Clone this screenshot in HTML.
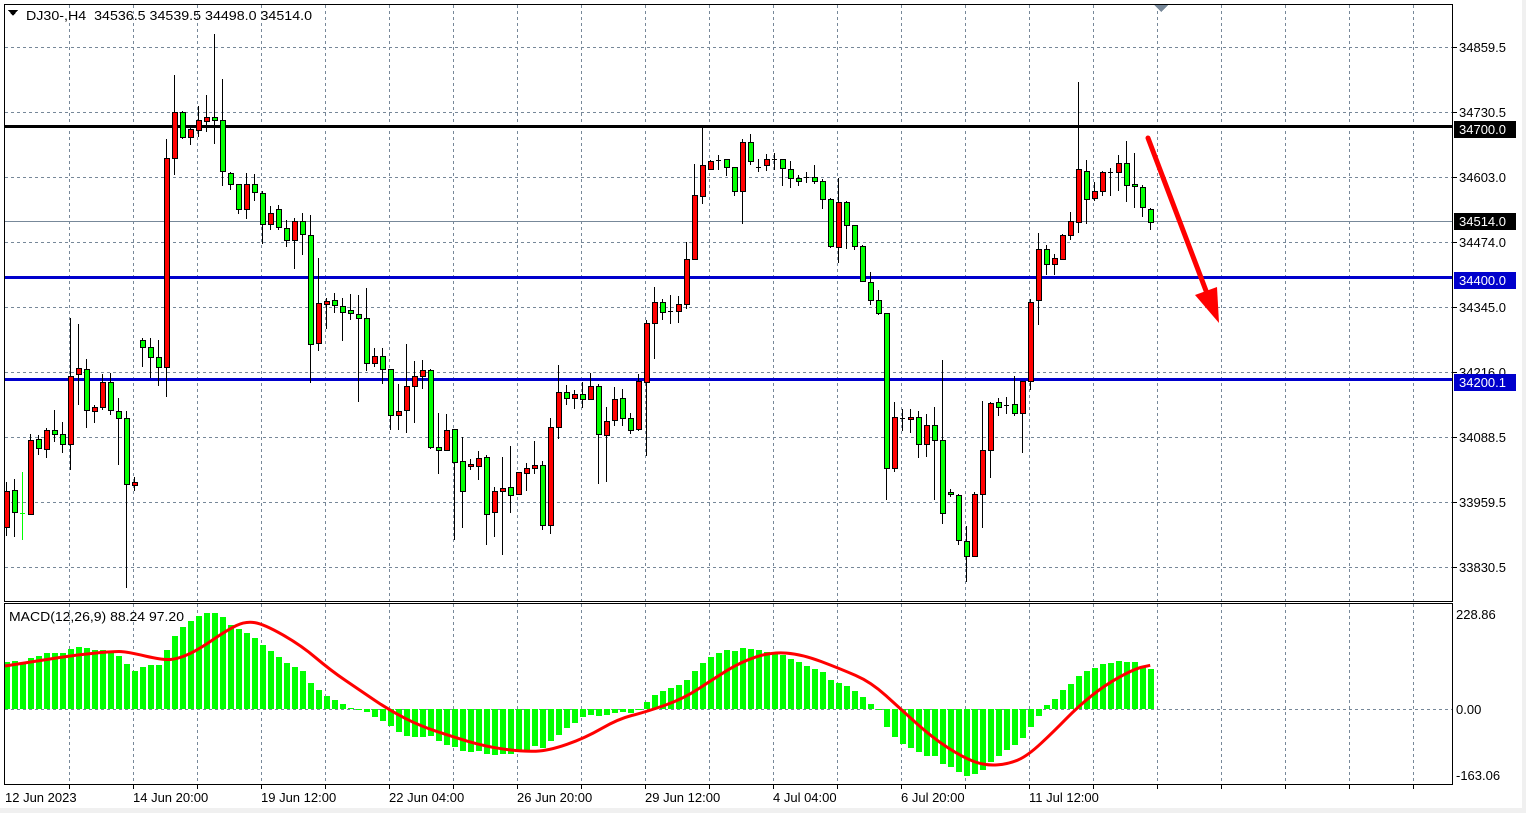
<!DOCTYPE html>
<html><head><meta charset="utf-8">
<style>
html,body{margin:0;padding:0;background:#fff;}
body{width:1526px;height:813px;overflow:hidden;position:relative;font-family:"Liberation Sans",Tahoma,sans-serif;}
svg{position:absolute;left:0;top:0;}
</style></head>
<body>
<svg id="s" width="1526" height="813" xmlns="http://www.w3.org/2000/svg" shape-rendering="crispEdges" font-family="Liberation Sans, sans-serif">
<rect x="0" y="0" width="1526" height="813" fill="#ffffff"/>
<rect x="0" y="808" width="1526" height="5" fill="#f0f0f0"/>
<rect x="1522" y="0" width="4" height="813" fill="#f0f0f0"/>
<g id="grid"></g>
<g id="levels"></g>
<g id="candles"></g>
<g id="macd"></g>
<g id="frame" fill="none" stroke="#000" stroke-width="1">
<rect x="4.5" y="4.5" width="1448" height="597"/>
<rect x="4.5" y="603.5" width="1448" height="181"/>
</g>
<polygon points="1154,5 1168,5 1161,12" fill="#778899"/>
<g font-size="13" fill="#000">
<polygon points="8,10 18,10 13,16" fill="#000"/>
<text x="26" y="20" xml:space="preserve" textLength="286" lengthAdjust="spacingAndGlyphs">DJ30-,H4  34536.5 34539.5 34498.0 34514.0</text>
<text x="9" y="621" textLength="175" lengthAdjust="spacingAndGlyphs">MACD(12,26,9) 88.24 97.20</text>
</g>
<g id="axis" font-size="13" fill="#000"></g>
<g id="arrow">
<line x1="1148" y1="138" x2="1208" y2="296" stroke="#ff0000" stroke-width="5" stroke-linecap="round" shape-rendering="auto"/>
<polygon points="1195,295 1217,287 1219,323" fill="#ff0000" shape-rendering="auto"/>
</g>
</svg>
<script>
var NS="http://www.w3.org/2000/svg";
function el(p,t,a,txt){var e=document.createElementNS(NS,t);for(var k in a)e.setAttribute(k,a[k]);if(txt!=null)e.textContent=txt;document.getElementById(p).appendChild(e);return e;}
for(var x=69;x<=1413;x+=64){
 el('grid','line',{x1:x+.5,y1:5,x2:x+.5,y2:601,stroke:'#778899','stroke-dasharray':'3,3'});
 el('grid','line',{x1:x+.5,y1:604,x2:x+.5,y2:784,stroke:'#778899','stroke-dasharray':'3,3'});
 el('grid','line',{x1:x+.5,y1:785,x2:x+.5,y2:789,stroke:'#000'});
}
var py=[47,112,177,242,307,372,437,502,567],pl=["34859.5","34730.5","34603.0","34474.0","34345.0","34216.0","34088.5","33959.5","33830.5"];
for(var i=0;i<py.length;i++){
 el('grid','line',{x1:5,y1:py[i]+.5,x2:1452,y2:py[i]+.5,stroke:'#778899','stroke-dasharray':'3,3'});
 el('axis','line',{x1:1453,y1:py[i]+.5,x2:1457,y2:py[i]+.5,stroke:'#000'});
 el('axis','text',{x:1459,y:py[i]+5},pl[i]);
}
el('grid','line',{x1:5,y1:709.5,x2:1452,y2:709.5,stroke:'#778899','stroke-dasharray':'3,3'});
el('axis','text',{x:1456,y:619},"228.86");
el('axis','text',{x:1456,y:714},"0.00");
el('axis','text',{x:1456,y:780},"-163.06");
var dl=["12 Jun 2023","14 Jun 20:00","19 Jun 12:00","22 Jun 04:00","26 Jun 20:00","29 Jun 12:00","4 Jul 04:00","6 Jul 20:00","11 Jul 12:00"];
for(var i=0;i<dl.length;i++)el('axis','text',{x:5+128*i,y:802},dl[i]);
el('levels','line',{x1:5,y1:221.5,x2:1452,y2:221.5,stroke:'#778899'});
el('levels','rect',{x:5,y:125,width:1447,height:3,fill:'#000'});
el('levels','rect',{x:5,y:276,width:1447,height:3,fill:'#0000cc'});
el('levels','rect',{x:5,y:378,width:1447,height:3,fill:'#0000cc'});
function lab(y,bg,t){el('axis','rect',{x:1454,y:y-8,width:62,height:17,fill:bg});el('axis','text',{x:1459,y:y+5,fill:'#fff'},t);}
lab(129,'#000',"34700.0");lab(221,'#000',"34514.0");lab(280,'#0000cc',"34400.0");lab(382,'#0000cc',"34200.1");
var C=[
['r',1272,1370,1250,1395],['g',1270,1330,1240,1398],['gd',1332,1332,1222,1405],['r',1136,1335,1120,1338],['g',1133,1158,1122,1175],
['r',1108,1160,1103,1183],['g',1108,1120,1053,1140],['g',1118,1147,1087,1170],['r',962,1147,805,1215],['r',940,958,822,1040],
['g',942,1055,915,1102],['r',1047,1058,1040,1088],['r',978,1047,958,1055],['g',978,1055,955,1068],['g',1057,1075,1022,1202],
['g',1077,1255,1057,1535],['r',1250,1258,1235,1272],['g',866,885,860,937],['g',885,912,860,968],['g',912,937,865,988],
['r',374,937,323,1018],['r',250,374,148,418],['g',250,317,245,322],['r',295,317,290,337],['r',271,297,233,315],
['r',263,274,203,302],['g',263,271,38,335],['g',271,407,160,450],['g',413,444,410,460],['g',444,512,444,525],
['r',444,512,413,537],['g',444,466,415,488],['g',468,552,462,605],['r',522,552,502,567],['g',510,560,500,567],
['g',561,596,540,613],['r',544,596,535,672],['g',544,579,523,635],['g',580,875,527,980],['r',766,874,643,895],
['r',760,767,752,835],['g',758,771,738,791],['g',773,790,752,867],['g',785,793,740,812],['g',795,806,742,1032],
['g',806,928,725,950],['r',907,928,887,937],['g',908,942,887,983],['g',942,1069,942,1108],['r',1057,1069,983,1108],
['r',990,1055,877,1115],['r',962,988,922,1088],['r',947,962,920,998],['g',947,1155,942,1160],['g',1153,1163,1062,1226],
['r',1108,1163,1065,1165],['g',1106,1196,1106,1405],['g',1193,1272,1127,1372],['r',1200,1206,1186,1216],['r',1185,1205,1165,1243],
['g',1182,1334,1177,1418],['r',1272,1331,1262,1398],['r',1266,1272,1180,1445],['g',1263,1285,1152,1332],['r',1223,1282,1223,1285],
['r',1212,1225,1198,1272],['r',1204,1212,1138,1226],['g',1204,1366,1192,1378],['r',1101,1366,1077,1388],['r',1006,1101,933,1133],
['g',1006,1022,987,1042],['r',1012,1022,1000,1052],['g',1012,1025,978,1050],['r',990,1025,955,1028],['g',990,1120,985,1255],
['r',1085,1123,1045,1250],['r',1025,1082,993,1097],['g',1023,1077,998,1097],['g',1077,1107,1062,1120],['r',975,1105,958,1112],
['r',820,978,810,1178],['r',763,820,722,915],['g',763,790,755,812],['d',787,787,743,823],['r',768,787,745,818],
['r',647,768,600,782],['r',473,645,388,648],['r',393,477,293,498],['r',381,404,378,405],['d',378,378,365,405],
['g',377,396,375,422],['g',398,462,398,475],['r',331,462,322,552],['g',331,382,308,393],['d',397,397,375,412],
['r',375,393,362,407],['d',377,377,360,405],['g',377,400,375,450],['g',402,428,381,453],['g',428,436,418,448],
['d',425,425,410,440],['g',425,436,392,442],['g',436,483,430,510],['g',485,612,480,617],['r',493,614,427,657],
['g',493,555,490,620],['g',555,612,555,622],['g',612,705,607,708],['g',707,758,680,770],['g',756,793,730,797],
['g',793,1210,793,1297],['r',1072,1210,1033,1223],['d',1075,1075,1052,1112],['r',1072,1078,1052,1117],['g',1072,1145,1057,1183],
['r',1096,1145,1065,1180],['g',1096,1136,1046,1297],['g',1136,1332,918,1363],['g',1277,1282,1268,1290],['g',1285,1405,1282,1420],
['g',1407,1450,1368,1520],['r',1282,1450,1275,1452],['r',1163,1282,1030,1372],['r',1036,1163,1033,1238],['g',1033,1045,1022,1070],
['d',1041,1041,1018,1066],['g',1038,1062,962,1070],['r',975,1063,975,1170],['r',763,975,755,1000],['r',620,758,575,825],
['g',620,660,607,690],['r',643,660,632,690],['r',580,645,578,648],['r',542,582,520,595],['r',403,545,168,575],
['g',407,485,378,552],['r',462,482,437,488],['r',411,462,408,475],['d',412,412,400,475],['r',387,410,365,462],
['g',387,447,327,493],['g',443,450,360,508],['g',452,506,447,532],['g',512,545,508,568]];
function Y(z){return Math.round(z/2.703+20);}
for(var i=0;i<C.length;i++){
 var c=C[i],cx=6+8*i,bt=Y(c[1]),bb=Y(c[2]),wt=Y(c[3]),wb=Y(c[4]);
 if(c[0]=='gd'){el('candles','line',{x1:cx+.5,y1:wt,x2:cx+.5,y2:wb,stroke:'#00ff00'});el('candles','line',{x1:cx-2,y1:bt+.5,x2:cx+3,y2:bt+.5,stroke:'#00ff00'});continue;}
 el('candles','line',{x1:cx+.5,y1:wt,x2:cx+.5,y2:wb,stroke:'#000'});
 if(c[0]=='d'||bb-bt<2){el('candles','line',{x1:cx-2,y1:bt+.5,x2:cx+3,y2:bt+.5,stroke:'#000'});if(c[0]=='d')continue;}
 el('candles','rect',{x:cx-2+.5,y:bt+.5,width:5,height:Math.max(bb-bt,1),fill:c[0]=='r'?'#ff0000':'#00ff00',stroke:'#000'});
}
var H1=[185,183,187,173,168,158,158,158,147,141,144,150,150,155,168,192,213,201,195,195,150,108,80,63,47,39,39,51,75,87,100,114,135,153,170,189,201,213,249,270,286,300,312,321,327,335,350,362,375,393,405,408,408,405,420,432,438,452,455,452,460,464,460,460,452,447,437,442,420,403,382,367];
var H2=[350,343,345,343,338,335,338,325,305,285,273,264,255,238,213,188,171,157,150,153,144,147,149,155,160,165,175,186,196,206,216,238,248,258,273,291,312,327,380,408,430,443,455,465,466,491,500,515,527,520,508,485,465,448,432,413,380,345,315,295,270,252,226,213,204,192,187,181,184,186,196,207];
var VS=2.986;
var hv=[];
for(var i=0;i<H1.length;i++)hv.push(600+H1[i]/VS);
for(var i=0;i<H2.length;i++)hv.push(600+H2[i]/VS);
for(var i=0;i<hv.length;i++){
 var cx=6+8*i,y=Math.round(hv[i]);
 var t=Math.min(y,709),h=Math.abs(y-709);
 if(h<1)h=1;
 el('macd','rect',{x:cx-2,y:t,width:6,height:h,fill:'#00ff00'});
}
var S1=[[0,197],[100,180],[200,163],[300,153],[330,155],[430,180],[470,175],[520,150],[600,90],[650,63],[700,72],[800,135],[880,210],[960,270],[1040,330],[1120,375],[1200,405],[1300,438],[1400,453],[1470,450],[1568,412]];
var S2=[[100,355],[170,335],[270,295],[350,235],[420,185],[500,155],[580,162],[680,205],[760,245],[840,328],[920,410],[1000,470],[1060,495],[1120,490],[1170,465],[1240,390],[1300,320],[1370,255],[1450,205],[1490,195]];
var pts=[];
S1.forEach(function(p){pts.push([5+p[0]/2.703,600+p[1]/VS]);});
S2.forEach(function(p){pts.push([580+p[0]/2.613,600+p[1]/VS]);});
var d="M"+pts[0][0].toFixed(1)+","+pts[0][1].toFixed(1);
for(var i=1;i<pts.length-1;i++){var mx=(pts[i][0]+pts[i+1][0])/2,my=(pts[i][1]+pts[i+1][1])/2;d+=" Q"+pts[i][0].toFixed(1)+","+pts[i][1].toFixed(1)+" "+mx.toFixed(1)+","+my.toFixed(1);}
d+=" L"+pts[pts.length-1][0].toFixed(1)+","+pts[pts.length-1][1].toFixed(1);
el('macd','path',{d:d,fill:'none',stroke:'#ff0000','stroke-width':3,'shape-rendering':'auto'});
</script>
</body></html>
